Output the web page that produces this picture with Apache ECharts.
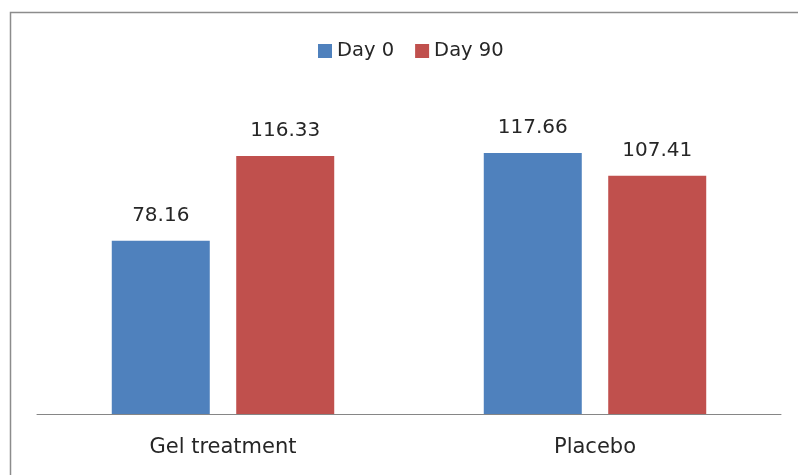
<!DOCTYPE html>
<html>
<head>
<meta charset="utf-8">
<script src="https://cdn.jsdelivr.net/npm/echarts@6/dist/echarts.min.js"></script>
<style>
  html, body { margin: 0; padding: 0; background: #fff; }
  #chart { width: 798px; height: 475px; }
</style>
</head>
<body>
<div id="chart"></div>
<script>
// chart data
const categories = ['Gel treatment', 'Placebo'];
const seriesNames = ['Day 0', 'Day 90'];
const day0 = [78.16, 117.66];
const day90 = [116.33, 107.41];
const colors = ['#4F81BD', '#C0504D'];

var myChart = echarts.init(document.getElementById('chart'));

var labelStyle = {
  show: true,
  position: 'top',
  distance: 15,
  fontFamily: 'DejaVu Sans',
  fontSize: 20,
  color: '#262626',
  formatter: p => p.value.toFixed(2)
};

var option = {
  animation: false,
  backgroundColor: '#fff',
  color: colors,
  // chart area border, runs past the right and bottom edges
  graphic: [{
    type: 'rect',
    shape: { x: 10.5, y: 12.5, width: 820, height: 500 },
    style: { fill: 'none', stroke: '#8c8c8c', lineWidth: 1.5 },
    silent: true
  }],
  legend: {
    top: 36,
    left: 313,
    itemWidth: 14,
    itemHeight: 14,
    itemGap: 21,
    icon: 'rect',
    textStyle: { fontFamily: 'DejaVu Sans', fontSize: 19.5, color: '#262626' },
    data: seriesNames
  },
  grid: { left: 37, right: 17, top: 103.5, bottom: 61 },
  xAxis: {
    type: 'category',
    data: categories,
    axisLine: { lineStyle: { color: '#868686', width: 1 } },
    axisTick: { show: false },
    axisLabel: {
      margin: 23,
      fontFamily: 'DejaVu Sans',
      fontSize: 21,
      color: '#262626'
    }
  },
  yAxis: {
    type: 'value',
    min: 0,
    max: 140,
    show: false,
    splitLine: { show: false }
  },
  series: [
    {
      name: seriesNames[0],
      type: 'bar',
      data: day0,
      barWidth: 98,
      barGap: '27%',
      label: labelStyle
    },
    {
      name: seriesNames[1],
      type: 'bar',
      data: day90,
      barWidth: 98,
      barGap: '27%',
      label: labelStyle
    }
  ]
};

option && myChart.setOption(option);
</script>
</body>
</html>
